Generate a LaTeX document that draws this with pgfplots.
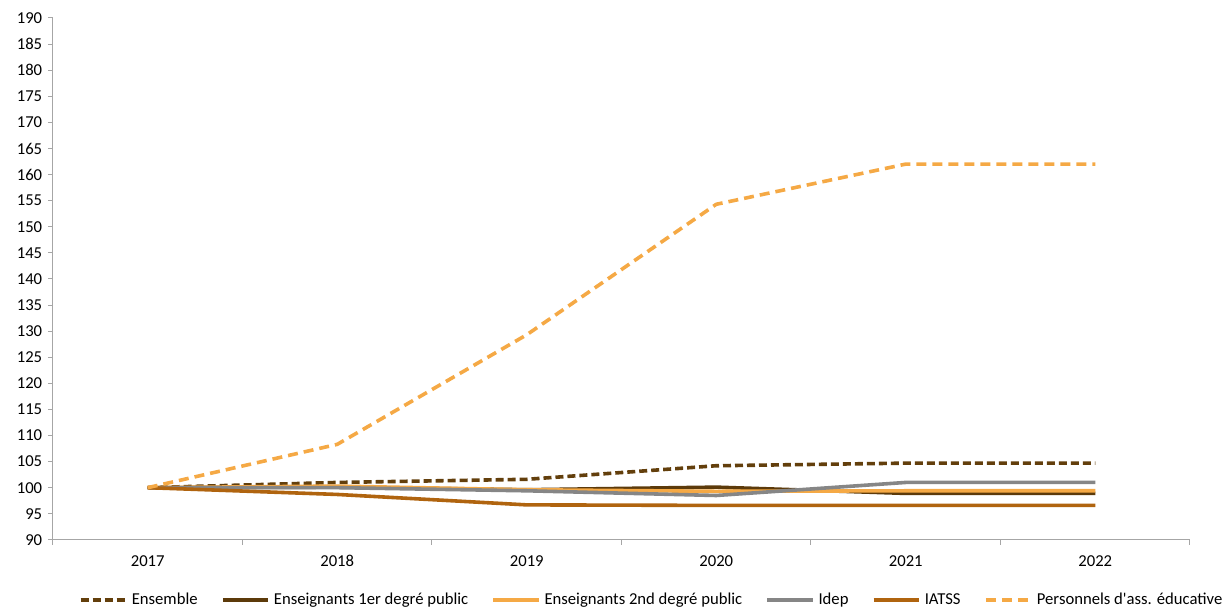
\documentclass[border=0pt]{standalone}
\usepackage{fontspec}
\setmainfont{Carlito}
\usepackage{pgfplots}
\pgfplotsset{compat=1.18}
\usetikzlibrary{calc}
\definecolor{cEns}{HTML}{633F0C}
\definecolor{cPrem}{HTML}{5C3A0A}
\definecolor{cSec}{HTML}{F5A945}
\definecolor{cIdep}{HTML}{868686}
\definecolor{cIatss}{HTML}{B0640F}
\definecolor{cPers}{HTML}{F5A945}
\definecolor{axgray}{HTML}{A6A6A6}
\begin{document}
\begin{tikzpicture}
\fontsize{12.5}{14}\selectfont
\begin{axis}[
  scale only axis, width=853pt, height=391.5pt,
  xmin=2016.5, xmax=2022.5, ymin=90, ymax=190,
  axis lines=left,
  axis line style={-, draw=axgray, line width=0.75pt},
  xtick={2016.5,2017.5,...,2022.5},
  xticklabels={},
  extra x ticks={2017,2018,2019,2020,2021,2022},
  extra x tick labels={2017,2018,2019,2020,2021,2022},
  extra x tick style={major tick length=0pt, tick label style={anchor=base, yshift=-20pt}},
  ytick={90,95,...,190},
  tick align=outside, major tick length=3.75pt,
  tick style={draw=axgray, line width=0.75pt},
  /pgf/number format/assume math mode=true,
  /pgf/number format/1000 sep={},
  tick label style={font=\fontsize{12.5}{14}\selectfont, text=black},
  every axis plot/.append style={line width=2.7pt, line join=round},
  legend columns=6,
  legend style={at={(0.019,-0.115)}, anchor=west, draw=none, fill=none,
    font=\fontsize{12.5}{14}\selectfont,
    /tikz/every even column/.append style={column sep=15.5pt},
    /tikz/every odd column/.append style={column sep=1pt}},
  legend cell align=left,
  legend image code/.code={\draw[#1] (0pt,0pt) -- (34pt,0pt);},
  clip=false,
]
\coordinate (bl) at (rel axis cs:0,0);
\coordinate (tr) at (rel axis cs:1,1);
\addplot[cEns, dash pattern=on 6pt off 3pt] coordinates {(2017,100) (2018,101.0) (2019,101.6) (2020,104.2) (2021,104.7) (2022,104.7)};
\addlegendentry{Ensemble}
\addplot[cPrem] coordinates {(2017,100) (2018,100.1) (2019,99.6) (2020,100.1) (2021,98.9) (2022,98.9)};
\addlegendentry{Enseignants 1er degré public}
\addplot[cSec] coordinates {(2017,100) (2018,100.3) (2019,99.6) (2020,99.3) (2021,99.4) (2022,99.4)};
\addlegendentry{Enseignants 2nd degré public}
\addplot[cIdep] coordinates {(2017,100) (2018,100.0) (2019,99.4) (2020,98.5) (2021,101.0) (2022,101.0)};
\addlegendentry{Idep}
\addplot[cIatss] coordinates {(2017,100) (2018,98.7) (2019,96.7) (2020,96.6) (2021,96.6) (2022,96.6)};
\addlegendentry{IATSS}
\addplot[cPers, dash pattern=on 7.5pt off 4.5pt] coordinates {(2017,100) (2018,108.3) (2019,129.3) (2020,154.3) (2021,162.0) (2022,162.0)};
\addlegendentry{Personnels d\textquotesingle ass. éducative}
\end{axis}
\pgfresetboundingbox
\useasboundingbox ($(bl)+(-39.75pt,-51.75pt)$) rectangle ($(tr)+(27.75pt,13.5pt)$);
\end{tikzpicture}
\end{document}
